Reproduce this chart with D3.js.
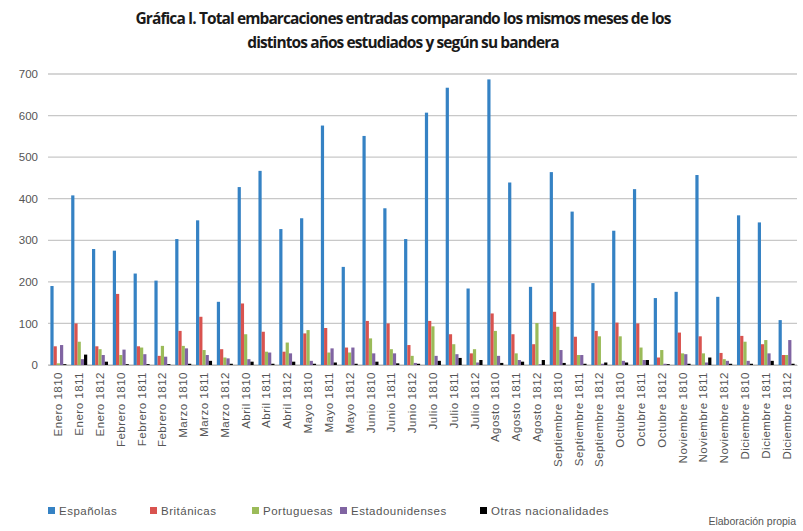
<!DOCTYPE html>
<html>
<head>
<meta charset="UTF-8">
<script src="https://cdn.jsdelivr.net/npm/d3@7"></script>
<style>
  body { margin: 0; padding: 0; background: #fff; }
  svg { display: block; }
</style>
</head>
<body>
<div id="chart"></div>
<script>
// months x years (1810, 1811, 1812)
const months = ["Enero", "Febrero", "Marzo", "Abril", "Mayo", "Junio", "Julio", "Agosto", "Septiembre", "Octubre", "Noviembre", "Diciembre"];
const years = ["1810", "1811", "1812"];
const categories = months.flatMap(m => years.map(y => m + " " + y));

const seriesNames = ["Españolas", "Británicas", "Portuguesas", "Estadounidenses", "Otras nacionalidades"];
const seriesColors = ["#3582c4", "#d9534f", "#9bbb59", "#8064a2", "#000000"];

const espanolas = [190, 408, 279, 275, 220, 203, 303, 348, 152, 428, 467, 327, 353, 576, 236, 551, 377, 303, 607, 667, 184, 687, 439, 188, 464, 369, 197, 323, 423, 161, 176, 457, 164, 360, 343, 108];
const britanicas = [45, 100, 45, 171, 45, 22, 82, 116, 38, 148, 80, 32, 76, 89, 42, 106, 100, 48, 106, 74, 28, 124, 74, 50, 128, 68, 82, 102, 100, 18, 78, 69, 29, 70, 50, 24];
const portuguesas = [4, 56, 38, 24, 42, 46, 46, 36, 18, 74, 32, 54, 84, 30, 30, 64, 38, 22, 93, 50, 38, 82, 28, 101, 92, 24, 69, 69, 42, 36, 28, 28, 14, 56, 60, 24];
const estadounidenses = [48, 14, 24, 37, 26, 20, 40, 24, 16, 14, 30, 28, 10, 40, 42, 28, 28, 5, 22, 26, 6, 22, 12, 2, 36, 24, 3, 10, 12, 3, 26, 6, 10, 10, 28, 60];
const otras = [2, 25, 8, 2, 2, 2, 3, 10, 3, 8, 3, 8, 3, 6, 3, 8, 4, 3, 10, 17, 12, 5, 8, 12, 5, 3, 6, 6, 12, 2, 3, 18, 3, 3, 10, 3];

const series = [espanolas, britanicas, portuguesas, estadounidenses, otras];
const yTicks = [0, 100, 200, 300, 400, 500, 600, 700];

const svgWidth = 803, svgHeight = 531;
const margin = { top: 74, right: 6, bottom: 166, left: 48 };
const width = svgWidth - margin.left - margin.right;
const height = svgHeight - margin.top - margin.bottom;

const svg = d3.select('#chart').append('svg')
    .attr('width', svgWidth)
    .attr('height', svgHeight);

// title
const title = svg.append('text')
    .attr('text-anchor', 'middle')
    .attr('font-family', 'Open Sans, sans-serif')
    .attr('font-weight', 700)
    .attr('font-size', 15.5)
    .attr('letter-spacing', -0.9)
    .attr('fill', '#1a1a1a');
title.append('tspan').attr('x', 403).attr('y', 24)
    .text('Gráfica I. Total embarcaciones entradas comparando los mismos meses de los');
title.append('tspan').attr('x', 403).attr('y', 48)
    .text('distintos años estudiados y según su bandera');

const g = svg.append('g')
    .attr('transform', `translate(${margin.left}, ${margin.top})`);

const x = d3.scaleBand().domain(categories).range([0, width]).paddingInner(0.23).paddingOuter(0.115);
const xs = d3.scaleBand().domain(d3.range(series.length)).range([0, x.bandwidth()]);
const y = d3.scaleLinear().domain([0, 700]).range([height, 0]);

// gridlines
g.append('g').selectAll('line')
    .data(yTicks)
    .join('line')
    .attr('x1', 0)
    .attr('x2', width)
    .attr('y1', d => y(d))
    .attr('y2', d => y(d))
    .attr('stroke', '#c8c8c8')
    .attr('stroke-width', 1.3);

// y axis labels
const yAxis = g.append('g')
    .call(d3.axisLeft(y).tickValues(yTicks).tickSize(0).tickPadding(10));
yAxis.select('.domain').remove();
yAxis.selectAll('text')
    .attr('font-family', 'Liberation Sans, Arial, sans-serif')
    .attr('font-size', 11.5)
    .attr('fill', '#555');

// bars
series.forEach((values, si) => {
    g.append('g')
        .selectAll('rect')
        .data(values)
        .join('rect')
        .attr('x', (d, i) => x(categories[i]) + xs(si))
        .attr('y', d => y(d))
        .attr('width', xs.bandwidth())
        .attr('height', d => height - y(d))
        .attr('fill', seriesColors[si]);
});

// x axis
const xAxis = g.append('g')
    .attr('transform', `translate(0, ${height})`)
    .call(d3.axisBottom(x).tickSize(0).tickPadding(6));
xAxis.select('.domain').attr('stroke', '#bbb');
xAxis.selectAll('text')
    .attr('font-family', 'Liberation Sans, Arial, sans-serif')
    .attr('font-size', 11.5)
    .attr('letter-spacing', 0.5)
    .attr('fill', '#555')
    .attr('text-anchor', 'end')
    .attr('dy', '0.35em')
    .attr('transform', 'translate(0,7) rotate(-90)')
    .attr('x', 0)
    .attr('y', 0);

// legend
const legendX = [48, 150, 252, 340, 480];
const legend = svg.append('g').attr('transform', 'translate(0, 511)');
seriesNames.forEach((name, i) => {
    const item = legend.append('g').attr('transform', `translate(${legendX[i]}, 0)`);
    item.append('rect')
        .attr('x', 0).attr('y', -4)
        .attr('width', 7).attr('height', 7)
        .attr('fill', seriesColors[i]);
    item.append('text')
        .attr('x', 11).attr('y', 0)
        .attr('dy', '0.35em')
        .attr('font-family', 'Liberation Sans, Arial, sans-serif')
        .attr('font-size', 11.5)
        .attr('letter-spacing', 0.5)
        .attr('fill', '#555')
        .text(name);
});

svg.append('text')
    .attr('x', 796).attr('y', 525)
    .attr('text-anchor', 'end')
    .attr('font-family', 'Liberation Sans, Arial, sans-serif')
    .attr('font-size', 10.5)
    .attr('fill', '#555')
    .text('Elaboración propia');
</script>
</body>
</html>
